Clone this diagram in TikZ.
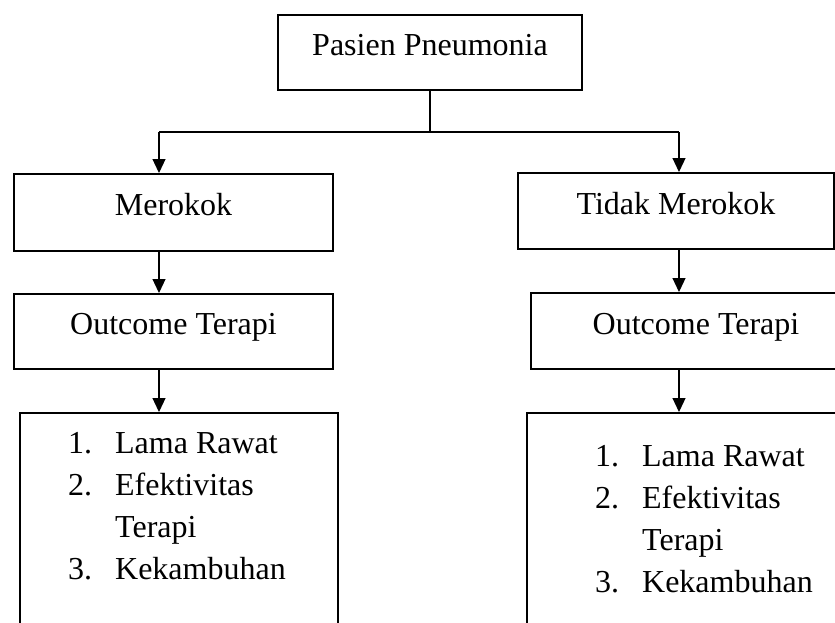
\documentclass[tikz,border=0pt]{standalone}
\usepackage{fontspec}
\setmainfont{Liberation Serif}
\usetikzlibrary{arrows.meta}
\begin{document}
\begin{tikzpicture}[x=1pt, y=-1pt,
    box/.style={rectangle, draw, line width=2pt, anchor=north west, inner sep=0pt,
                font=\fontsize{32}{42}\selectfont, text height=22pt, text depth=16pt},
    listbox/.style={rectangle, draw, line width=2pt, anchor=north west, inner sep=0pt},
    items/.style={anchor=north west, inner sep=0pt, font=\fontsize{32}{42}\selectfont},
    arr/.style={line width=1.2pt, -{Triangle[length=14pt,width=13pt]}},
    line/.style={line width=1.2pt}
]
    \useasboundingbox (0,0) rectangle (835,622);
    \clip (0,0) rectangle (835,622);

    \node[box, minimum width=304pt, minimum height=75pt] (pasien) at (277,14) {Pasien Pneumonia};
    \node[box, minimum width=319pt, minimum height=77pt] (merokok) at (13,173) {Merokok};
    \node[box, minimum width=316pt, minimum height=76pt] (tidak) at (517,172) {Tidak Merokok};
    \node[box, minimum width=319pt, minimum height=75pt] (outL) at (13,293) {Outcome Terapi};
    \node[box, minimum width=330pt, minimum height=76pt] (outR) at (530,292) {Outcome Terapi};
    \node[listbox, minimum width=318pt, minimum height=240pt] (listL) at (19,412) {};
    \node[listbox, minimum width=330pt, minimum height=240pt] (listR) at (526,412) {};

    \node[items] (itemsL) at (68,423.6) {\begin{tabular}{@{}l@{\hspace{23pt}}l@{}}
        1. & Lama Rawat\\ 2. & Efektivitas\\ & Terapi\\ 3. & Kekambuhan\end{tabular}};
    \node[items] (itemsR) at (595,436.6) {\begin{tabular}{@{}l@{\hspace{23pt}}l@{}}
        1. & Lama Rawat\\ 2. & Efektivitas\\ & Terapi\\ 3. & Kekambuhan\end{tabular}};

    \coordinate (brL) at (159,132);
    \coordinate (brR) at (679,132);

    \draw[line] (pasien.south) -- (pasien.south |- brL);
    \draw[line] (brL) -- (brR);
    \draw[arr] (brL) -- (brL |- merokok.north);
    \draw[arr] (brR) -- (brR |- tidak.north);
    \draw[arr] (merokok.south -| brL) -- (outL.north -| brL);
    \draw[arr] (tidak.south -| brR) -- (outR.north -| brR);
    \draw[arr] (outL.south -| brL) -- (listL.north -| brL);
    \draw[arr] (outR.south -| brR) -- (listR.north -| brR);
\end{tikzpicture}
\end{document}
